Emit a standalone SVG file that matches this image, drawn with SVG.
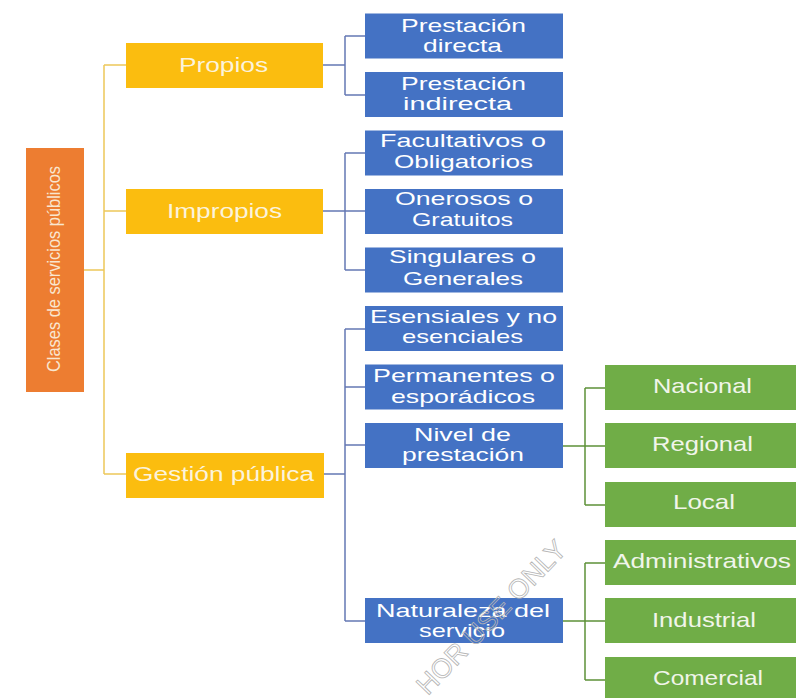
<svg xmlns="http://www.w3.org/2000/svg" width="796" height="698" viewBox="0 0 796 698">
<defs>
<style>
.root{fill:#ED7D31}
.yel{fill:#FBBD0F}
.blu{fill:#4472C4}
.grn{fill:#70AD47}
text{font-family:"Liberation Sans",Arial,sans-serif}
.ty{fill:#FBF3DC;font-size:20px}
.tb{fill:#FFFFFF;font-size:19px}
.tg{fill:#F1F5EA;font-size:21px}
.tr{fill:#F9E6CF;font-size:19px}
.cy{stroke:#EDC85A;stroke-width:1.5;fill:none}
.cb{stroke:#6478B4;stroke-width:1.5;fill:none}
.cg{stroke:#5E9138;stroke-width:1.5;fill:none}
.wm{fill:none;stroke:#B4B4B4;stroke-width:0.8;font-size:27px}
</style>
</defs>
<rect width="796" height="698" fill="#FFFFFF"/>
<g id="connectors">
<path class="cy" d="M84 270H104M104 65V474M104 65H126M104 211H126M104 474H126"/>
<path class="cb" d="M323 65H345M345 36V95M345 36H365M345 95H365"/>
<path class="cb" d="M323 211H365M345 153V270M345 153H365M345 270H365"/>
<path class="cb" d="M324 474H345M345 329V621M345 329H365M345 387H365M345 445H365M345 621H365"/>
<path class="cg" d="M563 446H605M585 388V505M585 388H605M585 505H605"/>
<path class="cg" d="M563 621H605M585 563V680M585 563H605M585 680H605"/>
</g>
<g id="root">
<rect class="root" x="26" y="148" width="58" height="244"/>
<text class="tr" transform="translate(60 372) rotate(-90)" x="0" y="0" textLength="206" lengthAdjust="spacingAndGlyphs">Clases de servicios públicos</text>
</g>
<g id="propios">
<rect class="yel" x="126" y="43" width="197" height="45"/>
<text class="ty" x="179" y="72" textLength="89" lengthAdjust="spacingAndGlyphs">Propios</text>
</g>
<g id="impropios">
<rect class="yel" x="126" y="189" width="197" height="45"/>
<text class="ty" x="167" y="218" textLength="115" lengthAdjust="spacingAndGlyphs">Impropios</text>
</g>
<g id="gestion">
<rect class="yel" x="126" y="453" width="198" height="45"/>
<text class="ty" x="133" y="481" textLength="181" lengthAdjust="spacingAndGlyphs">Gestión pública</text>
</g>
<g id="prestacion-directa">
<rect class="blu" x="365" y="13.5" width="198" height="45"/>
<text class="tb" x="401" y="32" textLength="125" lengthAdjust="spacingAndGlyphs">Prestación</text>
<text class="tb" x="423" y="52" textLength="79" lengthAdjust="spacingAndGlyphs">directa</text>
</g>
<g id="prestacion-indirecta">
<rect class="blu" x="365" y="72" width="198" height="45"/>
<text class="tb" x="401" y="90" textLength="125" lengthAdjust="spacingAndGlyphs">Prestación</text>
<text class="tb" x="403" y="110" textLength="109" lengthAdjust="spacingAndGlyphs">indirecta</text>
</g>
<g id="facultativos">
<rect class="blu" x="365" y="130.5" width="198" height="45"/>
<text class="tb" x="380" y="147" textLength="166" lengthAdjust="spacingAndGlyphs">Facultativos o</text>
<text class="tb" x="394" y="168" textLength="139" lengthAdjust="spacingAndGlyphs">Obligatorios</text>
</g>
<g id="onerosos">
<rect class="blu" x="365" y="189" width="198" height="45"/>
<text class="tb" x="395" y="205" textLength="138" lengthAdjust="spacingAndGlyphs">Onerosos o</text>
<text class="tb" x="412" y="226" textLength="101" lengthAdjust="spacingAndGlyphs">Gratuitos</text>
</g>
<g id="singulares">
<rect class="blu" x="365" y="247.5" width="198" height="45"/>
<text class="tb" x="389" y="263" textLength="147" lengthAdjust="spacingAndGlyphs">Singulares o</text>
<text class="tb" x="403" y="285" textLength="120" lengthAdjust="spacingAndGlyphs">Generales</text>
</g>
<g id="esensiales">
<rect class="blu" x="365" y="306" width="198" height="45"/>
<text class="tb" x="370" y="323" textLength="187" lengthAdjust="spacingAndGlyphs">Esensiales y no</text>
<text class="tb" x="402" y="343" textLength="121" lengthAdjust="spacingAndGlyphs">esenciales</text>
</g>
<g id="permanentes">
<rect class="blu" x="365" y="364.5" width="198" height="45"/>
<text class="tb" x="373" y="382" textLength="182" lengthAdjust="spacingAndGlyphs">Permanentes o</text>
<text class="tb" x="391" y="403" textLength="144" lengthAdjust="spacingAndGlyphs">esporádicos</text>
</g>
<g id="nivel">
<rect class="blu" x="365" y="423" width="198" height="45"/>
<text class="tb" x="414" y="441" textLength="97" lengthAdjust="spacingAndGlyphs">Nivel de</text>
<text class="tb" x="402" y="461" textLength="122" lengthAdjust="spacingAndGlyphs">prestación</text>
</g>
<g id="naturaleza">
<rect class="blu" x="365" y="598" width="198" height="45"/>
<text class="tb" x="376" y="617" textLength="174" lengthAdjust="spacingAndGlyphs">Naturaleza del</text>
<text class="tb" x="419" y="637" textLength="86" lengthAdjust="spacingAndGlyphs">servicio</text>
</g>
<g id="nacional">
<rect class="grn" x="605" y="365" width="198" height="45"/>
<text class="tg" x="653" y="393" textLength="99" lengthAdjust="spacingAndGlyphs">Nacional</text>
</g>
<g id="regional">
<rect class="grn" x="605" y="423" width="198" height="45"/>
<text class="tg" x="652" y="451" textLength="101" lengthAdjust="spacingAndGlyphs">Regional</text>
</g>
<g id="local">
<rect class="grn" x="605" y="482" width="198" height="45"/>
<text class="tg" x="673" y="509" textLength="62" lengthAdjust="spacingAndGlyphs">Local</text>
</g>
<g id="administrativos">
<rect class="grn" x="605" y="540" width="198" height="45"/>
<text class="tg" x="613" y="568" textLength="178" lengthAdjust="spacingAndGlyphs">Administrativos</text>
</g>
<g id="industrial">
<rect class="grn" x="605" y="598" width="198" height="45"/>
<text class="tg" x="652" y="627" textLength="104" lengthAdjust="spacingAndGlyphs">Industrial</text>
</g>
<g id="comercial">
<rect class="grn" x="605" y="657" width="198" height="45"/>
<text class="tg" x="653" y="685" textLength="110" lengthAdjust="spacingAndGlyphs">Comercial</text>
</g>
<text class="wm" transform="translate(568 551) rotate(-46)" x="0" y="0" text-anchor="end">HOR USE ONLY</text>
</svg>
